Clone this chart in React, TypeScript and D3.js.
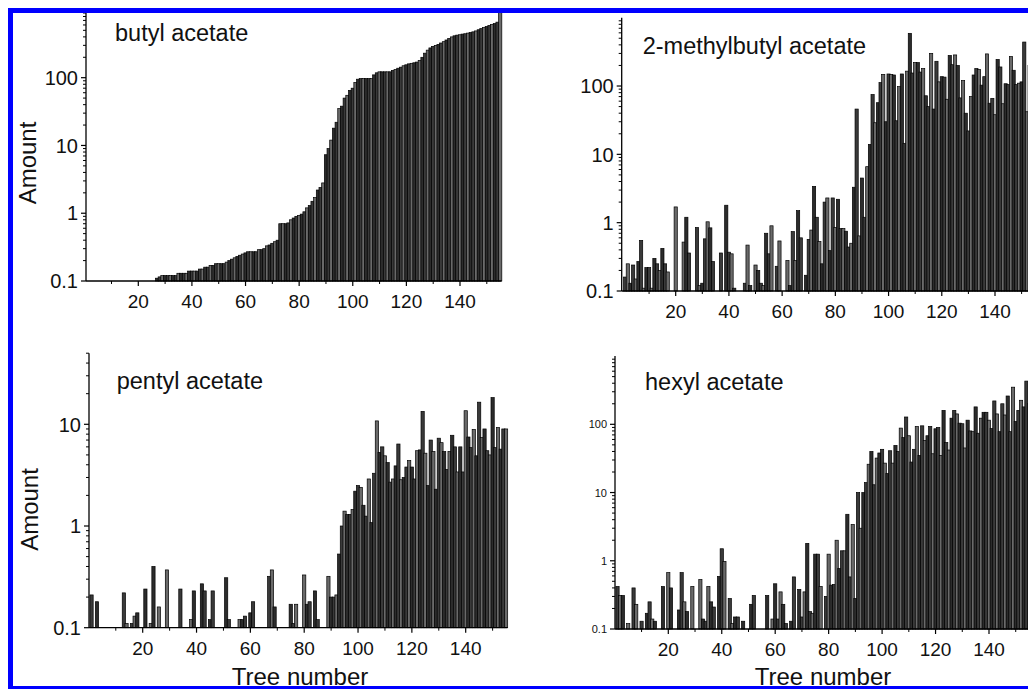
import React from 'react';
import * as d3 from 'd3';

// Tree numbers 1..155 (category axis)
const treeNumbers: number[] = d3.range(1, 156);

const butylAcetate: number[] = [
  0, 0, 0, 0, 0, 0, 0, 0, 0, 0,
  0, 0, 0, 0, 0, 0, 0, 0, 0, 0,
  0, 0, 0, 0, 0, 0, 0.11, 0.115, 0.12, 0.12,
  0.12, 0.12, 0.12, 0.12, 0.13, 0.13, 0.13, 0.13, 0.14, 0.14,
  0.14, 0.14, 0.15, 0.15, 0.16, 0.16, 0.17, 0.17, 0.18, 0.18,
  0.18, 0.18, 0.19, 0.2, 0.21, 0.22, 0.23, 0.24, 0.25, 0.26,
  0.27, 0.27, 0.27, 0.27, 0.29, 0.29, 0.3, 0.33, 0.34, 0.36,
  0.38, 0.4, 0.7, 0.7, 0.7, 0.72, 0.8, 0.85, 0.9, 0.93,
  0.97, 1.05, 1.2, 1.3, 1.5, 1.7, 2.2, 2.4, 2.8, 7.3,
  9, 12, 18, 22, 35, 38, 50, 55, 65, 70,
  85, 95, 97, 97, 97, 97, 97, 110, 118, 122,
  122, 122, 122, 122, 128, 132, 138, 143, 150, 155,
  160, 163, 166, 170, 180, 200, 230, 255, 275, 290,
  300, 310, 325, 340, 360, 380, 400, 415, 425, 430,
  440, 445, 455, 465, 475, 490, 510, 530, 550, 570,
  590, 610, 630, 660, 950,
];

const methylbutylAcetate: number[] = [
  0.16, 0.25, 0.13, 0.24, 0.15, 0.27, 0.55, 0.11, 0.22, 0.22,
  0.11, 0.3, 0.25, 0.2, 0.42, 0.25, 0.19, 0, 0, 1.7,
  0, 0, 0.52, 1.2, 0.36, 0, 0, 0.85, 0.12, 0.13,
  0.58, 1.03, 0.84, 0.27, 0, 0, 0.36, 0, 1.8, 0.37,
  0.35, 0.11, 0, 0, 0, 0.13, 0.47, 0.12, 0, 0.24,
  0.2, 0.13, 0.12, 0.7, 0.35, 0.9, 0, 0.23, 0.54, 0,
  0, 0.28, 0.12, 0.74, 0.28, 1.5, 0.6, 0, 0.17, 0.57,
  0.78, 3.4, 1.2, 0.53, 0.25, 2.0, 2.3, 0.39, 2.3, 0.85,
  2.2, 0.82, 0.82, 0.75, 0.44, 0.5, 3.3, 46, 0.64, 4.5,
  1.2, 6.6, 14, 75, 29, 57, 112, 148, 30, 150,
  148, 145, 31, 98, 150, 14.5, 165, 590, 155, 220,
  220, 160, 180, 72, 50, 300, 46, 230, 115, 137,
  135, 64, 280, 205, 285, 200, 67, 120, 40, 22,
  70, 145, 180, 175, 103, 137, 295, 56, 66, 38,
  245, 190, 55, 108, 105, 270, 170, 105, 110, 115,
  440, 42, 200, 120, 80,
];

const pentylAcetate: number[] = [
  0.21, 0, 0.18, 0, 0, 0, 0, 0, 0, 0,
  0, 0, 0.22, 0.11, 0, 0.11, 0.13, 0.14, 0, 0,
  0.24, 0, 0.11, 0.4, 0, 0.16, 0, 0, 0.37, 0,
  0, 0, 0, 0.24, 0, 0, 0, 0.12, 0.23, 0,
  0, 0.27, 0.23, 0, 0.12, 0.23, 0, 0, 0, 0,
  0.31, 0.12, 0, 0, 0, 0.12, 0.12, 0.13, 0, 0.14,
  0.18, 0, 0, 0, 0, 0, 0.32, 0.37, 0.16, 0,
  0, 0, 0, 0, 0.17, 0.11, 0.17, 0, 0, 0.33,
  0.17, 0.18, 0, 0.23, 0.12, 0, 0, 0, 0.32, 0.2,
  0.2, 0.21, 0.53, 1.0, 1.4, 1.3, 1.3, 1.45, 2.2, 2.5,
  2.4, 1.6, 1.25, 2.9, 1.08, 3.3, 10.8, 5.3, 6.0, 4.9,
  4.2, 2.7, 2.9, 3.9, 6.4, 2.85, 3.0, 3.8, 4.4, 3.8,
  2.9, 5.5, 5.6, 13.4, 5.2, 2.5, 7.0, 5.4, 2.3, 7.3,
  6.6, 5.4, 3.6, 5.4, 7.8, 6.0, 3.4, 6.0, 3.4, 13.6,
  7.5, 5.9, 8.9, 4.9, 16.5, 7.4, 9.0, 5.5, 5.0, 18.3,
  5.9, 9.3, 5.7, 9.0, 9.0,
];

const hexylAcetate: number[] = [
  0.42, 0.31, 0.31, 0, 0.12, 0, 0.4, 0.23, 0, 0.13,
  0, 0.17, 0.25, 0.14, 0.13, 0, 0, 0.42, 0, 0.67,
  0.4, 0, 0, 0.19, 0.67, 0.25, 0.18, 0, 0.42, 0,
  0, 0.53, 0.14, 0.13, 0.42, 0.25, 0.21, 0, 0.59, 1.5,
  0.98, 0, 0.28, 0.12, 0.15, 0.15, 0, 0.13, 0, 0,
  0.23, 0.31, 0, 0, 0, 0, 0.31, 0, 0.14, 0.46,
  0.14, 0.35, 0.23, 0.12, 0, 0.13, 0.58, 0, 0.38, 0.15,
  0.35, 1.8, 0.18, 0.17, 1.25, 1.25, 0.42, 0, 0.3, 1.25,
  0.44, 0.45, 2.0, 0.77, 1.4, 1.4, 4.8, 0.58, 3.4, 0.28,
  10, 3, 10, 14, 26, 40, 13, 32, 38, 43,
  27, 19, 41, 27, 49, 40, 88, 64, 128, 68,
  28, 43, 93, 35, 95, 58, 68, 93, 37, 86,
  90, 35, 160, 54, 42, 123, 160, 142, 104, 102,
  45, 115, 80, 78, 180, 74, 123, 150, 150, 115,
  87, 220, 142, 78, 200, 137, 260, 78, 350, 110,
  160, 225, 180, 430, 200,
];

const panelTitles: string[] = ['butyl acetate', '2-methylbutyl acetate', 'pentyl acetate', 'hexyl acetate'];
const panelSeries: number[][] = [butylAcetate, methylbutylAcetate, pentylAcetate, hexylAcetate];
const xMajorTicks: number[] = [20, 40, 60, 80, 100, 120, 140];
const xMinorTicks: number[] = [10, 30, 50, 70, 90, 110, 130, 150];
const yDecadeTicks: number[] = [0.1, 1, 10, 100];
const yAxisTitle = 'Amount';
const xAxisTitle = 'Tree number';

// layout (pixel geometry of each panel)
const layout = [
  { axisX: 86, baseY: 281, decade: 67.77, yMax: 1000, x20: 138.3, x140: 460, titleX: 115, titleY: 41, yLab: 20, amount: [36, 163], tree: null as null | number[] },
  { axisX: 621.7, baseY: 291, decade: 68.33, yMax: 1000, x20: 675.7, x140: 995, titleX: 642.7, titleY: 54, yLab: 20, amount: null as null | number[], tree: null as null | number[] },
  { axisX: 89, baseY: 627.7, decade: 101.7, yMax: 50, x20: 142.7, x140: 465.7, titleX: 116.7, titleY: 389, yLab: 20, amount: [38, 509.5], tree: [300, 685] },
  { axisX: 615, baseY: 629, decade: 68.23, yMax: 1000, x20: 668.3, x140: 989, titleX: 645, titleY: 390, yLab: 11, amount: null as null | number[], tree: [823, 685] },
];

const FONT = '"Liberation Sans", Arial, Helvetica, sans-serif';
const BAR_FILLS = ['#2c2c2c', '#3a3a3a', '#6a6a6a'];

function Panel({ idx }: { idx: number }) {
  const L = layout[idx];
  const data = panelSeries[idx];
  const x = d3.scaleLinear().domain([20, 140]).range([L.x20, L.x140]);
  const span = Math.log10(L.yMax / 0.1);
  const y = d3.scaleLog().domain([0.1, L.yMax]).range([L.baseY, L.baseY - L.decade * span]);
  const step = x(21) - x(20);
  const bw = step * 1.2;
  const xEnd = x(155.5);

  const minor: number[] = [];
  yDecadeTicks.forEach((d) => {
    for (let k = 2; k <= 9; k++) {
      const v = +(k * d).toPrecision(3);
      if (v <= L.yMax + 1e-9) minor.push(v);
    }
  });
  const majors = yDecadeTicks.filter((v) => v <= L.yMax);

  return (
    <g>
      {treeNumbers.map((t, i) => {
        const v = data[i];
        if (!v || v <= 0.1) return null;
        const top = y(v);
        return (
          <rect
            key={t}
            x={x(t) - bw / 2}
            y={top}
            width={bw}
            height={L.baseY - top}
            fill={BAR_FILLS[(t * 7) % 3]}
            stroke="#000"
            strokeWidth={0.7}
          />
        );
      })}
      <line x1={L.axisX} x2={L.axisX} y1={L.baseY} y2={y(L.yMax)} stroke="#000" strokeWidth={1.3} />
      {majors.map((v) => (
        <line key={'M' + v} x1={L.axisX - 5} x2={L.axisX} y1={y(v)} y2={y(v)} stroke="#000" strokeWidth={1.2} />
      ))}
      {minor.map((v) => (
        <line key={'m' + v} x1={L.axisX - 3} x2={L.axisX} y1={y(v)} y2={y(v)} stroke="#000" strokeWidth={1} />
      ))}
      {majors.map((v) => (
        <text
          key={'L' + v}
          x={L.axisX - 8}
          y={y(v)}
          dy="0.36em"
          textAnchor="end"
          fontFamily={FONT}
          fontSize={L.yLab}
          fill="#111"
        >
          {String(v)}
        </text>
      ))}
      <line x1={L.axisX} x2={xEnd} y1={L.baseY} y2={L.baseY} stroke="#000" strokeWidth={1.3} />
      {xMajorTicks.map((t) => (
        <g key={'xt' + t}>
          <line x1={x(t)} x2={x(t)} y1={L.baseY} y2={L.baseY + 5} stroke="#000" strokeWidth={1.2} />
          <text x={x(t)} y={L.baseY + 27} textAnchor="middle" fontFamily={FONT} fontSize={19} fill="#111">
            {t}
          </text>
        </g>
      ))}
      {xMinorTicks.map((t) => (
        <line key={'xm' + t} x1={x(t)} x2={x(t)} y1={L.baseY} y2={L.baseY + 3} stroke="#000" strokeWidth={1} />
      ))}
      <text x={L.titleX} y={L.titleY} fontFamily={FONT} fontSize={23.5} fill="#111">
        {panelTitles[idx]}
      </text>
      {L.amount && (
        <text
          transform={`translate(${L.amount[0]},${L.amount[1]}) rotate(-90)`}
          textAnchor="middle"
          fontFamily={FONT}
          fontSize={24}
          fill="#111"
        >
          {yAxisTitle}
        </text>
      )}
      {L.tree && (
        <text x={L.tree[0]} y={L.tree[1]} textAnchor="middle" fontFamily={FONT} fontSize={24} fill="#111">
          {xAxisTitle}
        </text>
      )}
    </g>
  );
}

export default function App() {
  return (
    <svg
      width={1028}
      height={689}
      style={{ position: 'fixed', left: 0, top: 0, background: '#fff', display: 'block' }}
    >
      <rect x={0} y={0} width={1028} height={689} fill="#fff" />
      {layout.map((_, i) => (
        <Panel key={i} idx={i} />
      ))}
      <rect x={8} y={8} width={1020} height={5} fill="#0000ff" />
      <rect x={8} y={8} width={5} height={681} fill="#0000ff" />
      <rect x={8} y={686} width={1020} height={3} fill="#0000ff" />
    </svg>
  );
}
